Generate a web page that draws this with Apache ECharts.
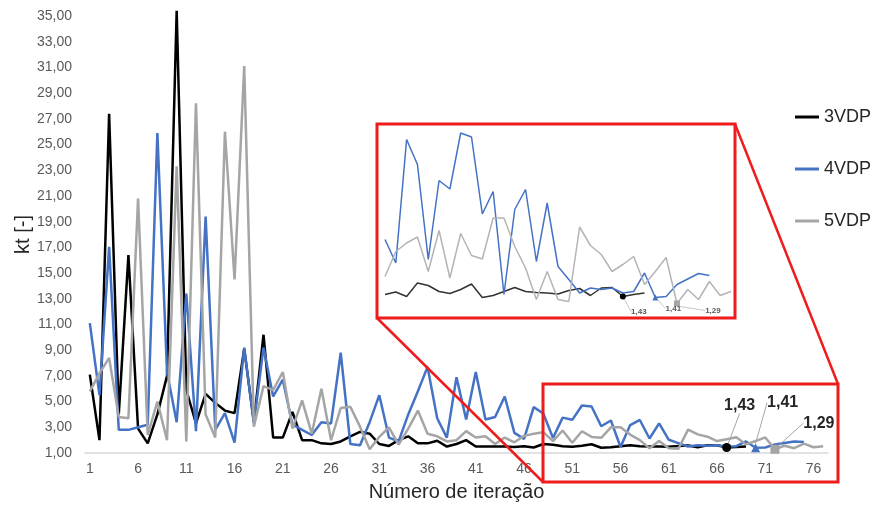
<!DOCTYPE html>
<html>
<head>
<meta charset="utf-8">
<script src="https://cdn.jsdelivr.net/npm/echarts@6/dist/echarts.min.js"></script>
<style>
  html, body { margin: 0; padding: 0; background: #ffffff; }
  #chart { width: 872px; height: 506px; }
</style>
</head>
<body>
<div id="chart"></div>
<script>
// Iteration numbers on the x axis
const iterations = [1,2,3,4,5,6,7,8,9,10,11,12,13,14,15,16,17,18,19,20,
  21,22,23,24,25,26,27,28,29,30,31,32,33,34,35,36,37,38,39,40,
  41,42,43,44,45,46,47,48,49,50,51,52,53,54,55,56,57,58,59,60,
  61,62,63,64,65,66,67,68,69,70,71,72,73,74,75,76,77];

// Tick values of the kt axis
const ktTicks = [1,3,5,7,9,11,13,15,17,19,21,23,25,27,29,31,33,35];

// kt per iteration, one array per configuration
const kt3VDP = [7.1,2.0,27.4,4.0,16.4,2.9,1.75,4.0,7.0,35.4,
  5.9,3.3,5.6,4.9,4.3,4.1,9.1,3.4,10.2,2.2,
  2.2,4.2,2.0,2.0,1.75,1.7,1.9,2.3,2.65,2.5,
  1.7,1.55,2.0,2.3,1.75,1.75,1.95,1.5,1.7,2.0,
  1.5,1.5,1.5,1.5,1.47,1.52,1.43,1.7,1.65,1.53,
  1.49,1.57,1.68,1.41,1.45,1.53,1.61,1.53,1.51,1.5,
  1.48,1.55,1.59,1.45,1.6,1.61,1.43,1.47,1.5];

const kt4VDP = [11.1,5.5,17.05,2.8,2.8,3.0,3.2,25.9,7.3,3.4,
  13.4,2.7,19.4,2.8,4.1,1.8,9.2,3.3,9.2,5.4,
  6.7,3.2,2.8,2.4,3.4,3.3,8.8,1.7,1.6,3.4,
  5.5,2.2,1.9,4.0,5.8,7.7,3.7,2.2,6.9,3.6,
  7.3,3.6,3.8,5.4,2.57,2.1,4.57,4.07,2.17,3.75,
  3.58,4.7,4.62,3.08,3.53,1.47,3.17,3.57,2.13,3.3,
  2.03,1.77,1.5,1.6,1.57,1.6,1.5,1.53,1.9,1.41,
  1.43,1.67,1.78,1.89,1.85];

const kt5VDP = [5.8,7.2,8.4,3.8,3.7,20.8,2.4,5.0,2.0,23.3,
  1.9,28.2,4.0,2.2,26.0,14.5,31.1,3.05,6.2,5.9,
  7.3,2.9,5.1,2.5,6.0,2.0,4.5,4.6,3.05,1.3,
  2.25,3.0,1.65,2.9,4.3,2.5,2.3,1.9,2.0,2.7,
  2.2,2.3,1.7,2.2,1.83,2.33,2.5,2.62,1.93,2.75,
  1.8,2.69,2.25,2.18,3.0,3.0,2.43,2.0,1.37,1.93,
  1.37,1.33,2.82,2.45,2.27,1.93,2.07,2.23,1.67,1.93,
  2.21,1.29,1.57,1.37,1.73,1.45,1.53];

// Converged point marked on each curve (0-based index)
const mark3VDP = 66;
const mark4VDP = 69;
const mark5VDP = 71;

// First iteration shown in the enlarged detail (0-based index)
const detailFrom = 44;

const COLORS = { k3: '#000000', k4: '#4472c4', k5: '#a5a5a5' };
const RED = '#ee1c1c';
const fmt = v => Number(v).toFixed(2).replace('.', ',');

function withMark(values, idx, symbol, size, color, labelStyle, guideColor) {
  return values.map((v, i) => {
    if (i !== idx) return v;
    return {
      value: v,
      symbol: symbol,
      symbolSize: size,
      itemStyle: { color: color },
      label: Object.assign({
        show: true,
        position: 'inside',
        formatter: p => fmt(p.value)
      }, labelStyle),
      labelLine: { show: true, lineStyle: { color: guideColor, width: 1 } }
    };
  });
}

const mainLabel = { fontFamily: 'Liberation Sans, Arial, sans-serif', fontSize: 16, fontWeight: 'bold', color: '#262626' };
const detailLabel = { fontFamily: 'Liberation Sans, Arial, sans-serif', fontSize: 8, fontWeight: 'bold', color: '#595959' };

function mainSeries(name, values, idx, symbol, size, color, offset) {
  return {
    name: name,
    type: 'line',
    xAxisIndex: 0,
    yAxisIndex: 0,
    data: withMark(values, idx, symbol, size, color, mainLabel, '#a6a6a6'),
    symbol: 'none',
    showSymbol: true,
    showAllSymbol: true,
    clip: false,
    lineStyle: { color: color, width: 2.5 },
    itemStyle: { color: color },
    labelLayout: () => ({ dx: offset[0], dy: offset[1] }),
    emphasis: { disabled: true },
    silent: true
  };
}

function detailSeries(name, values, idx, symbol, size, color, lineColor, offset) {
  return {
    name: name,
    type: 'line',
    xAxisIndex: 1,
    yAxisIndex: 1,
    data: withMark(values.slice(detailFrom), idx - detailFrom, symbol, size, color, detailLabel, '#c8c8c8'),
    symbol: 'none',
    showSymbol: true,
    showAllSymbol: true,
    lineStyle: { color: lineColor, width: 1.5 },
    itemStyle: { color: color },
    labelLayout: () => ({ dx: offset[0], dy: offset[1] }),
    emphasis: { disabled: true },
    silent: true
  };
}

const chart = echarts.init(document.getElementById('chart'), null, { renderer: 'canvas' });

chart.setOption({
  animation: false,
  backgroundColor: '#ffffff',
  textStyle: { fontFamily: 'Liberation Sans, Arial, sans-serif' },
  legend: {
    data: ['3VDP', '4VDP', '5VDP'],
    orient: 'vertical',
    left: 795,
    top: 107,
    padding: 0,
    icon: 'rect',
    itemWidth: 24,
    itemHeight: 3,
    itemGap: 32,
    selectedMode: false,
    textStyle: { fontSize: 18, lineHeight: 20, color: '#262626' }
  },
  grid: [
    { left: 85, right: 44, top: 16, bottom: 53, outerBoundsMode: 'none', containLabel: false },
    { left: 385, top: 123, width: 346, height: 195, outerBoundsMode: 'none', containLabel: false }
  ],
  xAxis: [
    {
      type: 'category',
      gridIndex: 0,
      data: iterations,
      boundaryGap: true,
      name: 'Número de iteração',
      nameLocation: 'middle',
      nameGap: 29,
      nameMoveOverlap: false,
      nameTextStyle: { fontSize: 20, color: '#262626' },
      axisLine: { lineStyle: { color: '#d9d9d9', width: 1.5 } },
      axisTick: { show: false },
      axisLabel: { interval: 4, margin: 9, fontSize: 14, color: '#595959' },
      splitLine: { show: false }
    },
    {
      type: 'category',
      gridIndex: 1,
      data: iterations.slice(detailFrom),
      boundaryGap: false,
      show: false
    }
  ],
  yAxis: [
    {
      type: 'value',
      gridIndex: 0,
      min: 1,
      max: 35,
      name: 'kt [-]',
      nameLocation: 'middle',
      nameGap: 52,
      nameMoveOverlap: false,
      nameTextStyle: { fontSize: 20, color: '#262626' },
      axisLine: { show: false },
      axisTick: { show: false },
      splitLine: { show: false },
      axisLabel: {
        customValues: ktTicks,
        margin: 13,
        fontSize: 14,
        color: '#595959',
        formatter: v => fmt(v)
      }
    },
    {
      type: 'value',
      gridIndex: 1,
      min: 1,
      max: 4.9,
      show: false,
      splitLine: { show: false }
    }
  ],
  series: [
    mainSeries('3VDP', kt3VDP, mark3VDP, 'circle', 9, COLORS.k3, [13, -42]),
    mainSeries('4VDP', kt4VDP, mark4VDP, 'triangle', 9, COLORS.k4, [27, -45]),
    mainSeries('5VDP', kt5VDP, mark5VDP, 'rect', 9, COLORS.k5, [44, -26]),
    detailSeries('3VDP detalhe', kt3VDP, mark3VDP, 'circle', 6, '#000000', '#333333', [16, 15]),
    detailSeries('4VDP detalhe', kt4VDP, mark4VDP, 'triangle', 6, COLORS.k4, COLORS.k4, [18, 11]),
    detailSeries('5VDP detalhe', kt5VDP, mark5VDP, 'rect', 6, '#a5a5a5', '#b4b4b4', [36, 7])
  ],
  graphic: [
    { type: 'rect', z: 100, shape: { x: 377, y: 124, width: 358, height: 194 },
      style: { fill: null, stroke: RED, lineWidth: 3 } },
    { type: 'rect', z: 100, shape: { x: 543, y: 384, width: 295, height: 98 },
      style: { fill: null, stroke: RED, lineWidth: 3 } },
    { type: 'line', z: 100, shape: { x1: 377, y1: 318, x2: 543, y2: 482 },
      style: { stroke: RED, lineWidth: 2.5 } },
    { type: 'line', z: 100, shape: { x1: 735, y1: 124, x2: 838, y2: 384 },
      style: { stroke: RED, lineWidth: 2.5 } }
  ]
});
</script>
</body>
</html>
